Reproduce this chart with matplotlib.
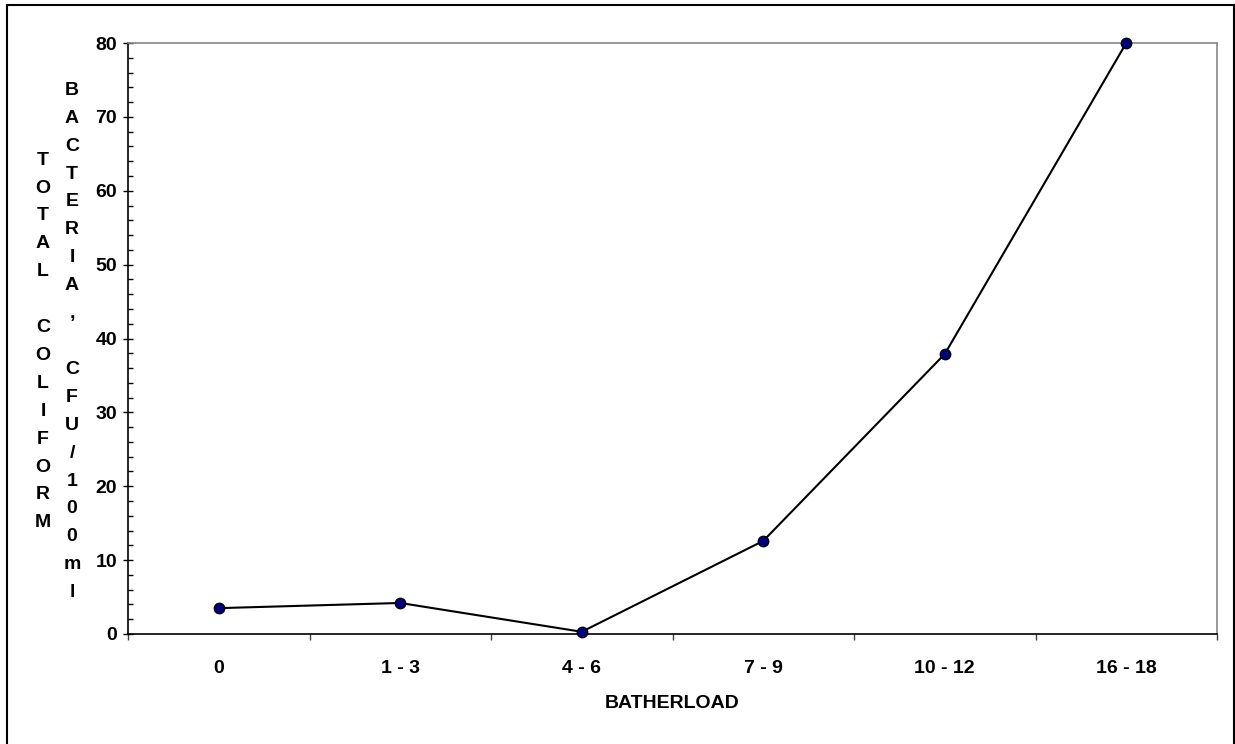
import matplotlib
matplotlib.use("Agg")
import matplotlib.pyplot as plt
from matplotlib.patches import Rectangle
from matplotlib.ticker import MultipleLocator

plt.rcParams['font.family'] = ['Liberation Sans', 'DejaVu Sans']
plt.rcParams['font.weight'] = 'bold'

categories = ['0', '1 - 3', '4 - 6', '7 - 9', '10 - 12', '16 - 18']
coliform = [3.5, 4.2, 0.3, 12.6, 37.9, 80.0]
ylabel_col1 = 'TOTAL COLIFORM'
ylabel_col2 = 'BACTERIA, CFU/100ml'
xlabel = 'BATHERLOAD'

W, H = 1235, 744
fig = plt.figure(figsize=(W / 100, H / 100), dpi=100)
ax = fig.add_axes([128 / W, 1 - 634 / H, (1217 - 128) / W, (634 - 43) / H])

x = list(range(len(categories)))
ax.plot(x, coliform, color='black', lw=1.5, marker='o', ms=7.5,
        mfc='#000080', mec='black', mew=1, zorder=3, clip_on=False)

ax.set_xlim(-0.5, len(categories) - 0.5)
ax.set_ylim(0, 80)

# y axis: majors every 10, minors every 2
ax.yaxis.set_major_locator(MultipleLocator(10))
ax.yaxis.set_minor_locator(MultipleLocator(2))
ax.tick_params(axis='y', which='major', direction='inout', length=7.5, width=1,
               labelsize=14, pad=4)
ax.tick_params(axis='y', which='minor', direction='in', length=3.5, width=1)

# x axis: labels at category centres, ticks at boundaries
ax.set_xticks(x)
ax.set_xticklabels(categories)
ax.set_xticks([i - 0.5 for i in range(len(categories) + 1)], minor=True)
ax.tick_params(axis='x', which='major', length=0, labelsize=14, pad=19)
ax.tick_params(axis='x', which='minor', direction='out', length=4, width=1, color='#404040')

for s in ['top', 'right']:
    ax.spines[s].set_color('#888888')
    ax.spines[s].set_linewidth(1.2)
for s in ['left', 'bottom']:
    ax.spines[s].set_color('black')
    ax.spines[s].set_linewidth(1.2)

# stacked vertical y label, two columns
step = 27.9
centre = 339.5
for xc, txt in [(43, ylabel_col1), (72, ylabel_col2)]:
    y0 = centre - (len(txt) - 1) * step / 2
    for i, ch in enumerate(txt):
        fig.text(xc / W, 1 - (y0 + i * step + 6.5) / H, ch, ha='center', va='baseline',
                 fontsize=14, fontweight='bold')

fig.text(672.5 / W, 1 - 703 / H, xlabel, ha='center', va='center',
         fontsize=14, fontweight='bold')

# chart border
fig.patches.append(Rectangle((7 / W, -0.01), (1234 - 7) / W, (1 - 5 / H) + 0.01,
                             transform=fig.transFigure, fill=False,
                             edgecolor='black', lw=1.5))

fig.savefig('out.png', dpi=100)
